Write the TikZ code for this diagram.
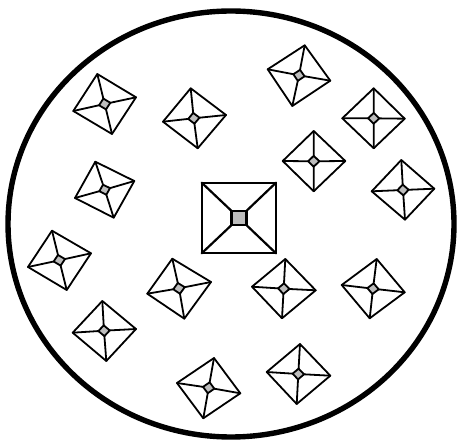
\documentclass[tikz,border=0pt]{standalone}
\usetikzlibrary{calc}
\tikzset{
  x=1pt,y=-1pt,
  boundary/.style={line width=5.4pt,draw=black},
  pyredge/.style={line width=1.8pt,draw=black,line join=round,line cap=round},
  bigedge/.style={line width=2.2pt,draw=black,line join=round,line cap=round},
  capfill/.style={fill=black!26}
}
% #1 style, #2 ratio, #3 centre, #4 top, #5 right, #6 bottom, #7 left
\newcommand{\pyr}[7]{%
  \coordinate (c) at (#3);
  \coordinate (t) at (#4);
  \coordinate (r) at (#5);
  \coordinate (b) at (#6);
  \coordinate (l) at (#7);
  \coordinate (it) at ($(c)!#2!(t)$);
  \coordinate (ir) at ($(c)!#2!(r)$);
  \coordinate (ib) at ($(c)!#2!(b)$);
  \coordinate (il) at ($(c)!#2!(l)$);
  \draw[#1] (t) -- (r) -- (b) -- (l) -- cycle;
  \draw[#1] (t) -- (it) (r) -- (ir) (b) -- (ib) (l) -- (il);
  \draw[#1,capfill] (it) -- (ir) -- (ib) -- (il) -- cycle;
}
\begin{document}
\begin{tikzpicture}
\useasboundingbox (0,0) rectangle (457,443);
\draw[boundary] (231,224) ellipse [x radius=223,y radius=213];
\pyr{bigedge}{0.2}{239,218}{201.7,182.7}{276,182.7}{276,253.3}{201.7,253.3}
\pyr{pyredge}{0.18}{104.7,104}{97.3,74}{136,97.3}{112,134}{73.3,111}
\pyr{pyredge}{0.18}{193.7,118.3}{190.7,88.3}{226,115}{197.7,148.3}{163,121.7}
\pyr{pyredge}{0.18}{104.7,189.7}{95.3,161.7}{134.3,181}{113.7,217.7}{75,198}
\pyr{pyredge}{0.18}{299,75.3}{304.7,45.3}{330.3,80.7}{292.3,106}{267.7,69.3}
\pyr{pyredge}{0.18}{373.7,118.3}{373.7,88.3}{404.7,118.7}{373.7,148.3}{342.3,118.3}
\pyr{pyredge}{0.18}{313.7,161.3}{313.7,131}{345.3,161}{313.7,191.3}{282.7,161}
\pyr{pyredge}{0.18}{403,190}{401.3,160}{434.3,188.7}{405,219.7}{371.7,191.3}
\pyr{pyredge}{0.18}{59.3,260.3}{52,230.7}{91,253.3}{66.7,290}{28,267}
\pyr{pyredge}{0.18}{179,288.3}{172.3,258.7}{211,282}{184.3,318.7}{147.3,293.7}
\pyr{pyredge}{0.18}{104,330.7}{102.3,301}{136,329}{106.3,361}{72.7,332.7}
\pyr{pyredge}{0.18}{208.7,387.7}{214,358}{240.3,393.3}{203.3,418.3}{177,383}
\pyr{pyredge}{0.18}{283.7,288.7}{285.3,259}{315.7,290.3}{282,318.3}{252,286.7}
\pyr{pyredge}{0.18}{373,288.7}{376.7,259}{404.7,292.3}{369.7,318.3}{341.7,285}
\pyr{pyredge}{0.18}{298.3,374}{300,344}{330.3,375.7}{296.7,404}{266.7,372}
\end{tikzpicture}
\end{document}
